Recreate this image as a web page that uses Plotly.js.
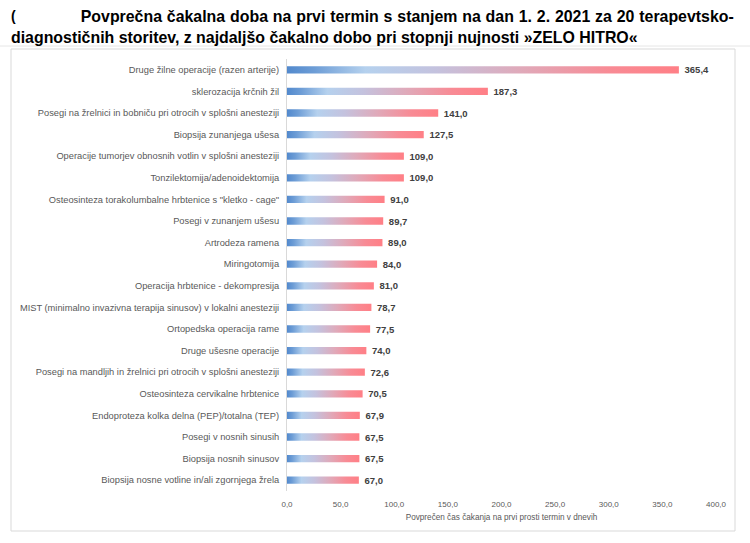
<!DOCTYPE html>
<html>
<head>
<meta charset="utf-8">
<script src="https://cdn.plot.ly/plotly-3.0.1.min.js"></script>
<style>html,body{margin:0;padding:0;background:#fff;}#chart{width:750px;height:543px;}</style>
</head>
<body>
<div id="chart"></div>
<script>
const categories = [
  "Druge žilne operacije (razen arterije)",
  "sklerozacija krčnih žil",
  "Posegi na žrelnici in bobniču pri otrocih v splošni anesteziji",
  "Biopsija zunanjega ušesa",
  "Operacije tumorjev obnosnih votlin v splošni anesteziji",
  "Tonzilektomija/adenoidektomija",
  "Osteosinteza torakolumbalne hrbtenice s \"kletko - cage\"",
  "Posegi v zunanjem ušesu",
  "Artrodeza ramena",
  "Miringotomija",
  "Operacija hrbtenice - dekompresija",
  "MIST (minimalno invazivna terapija sinusov) v lokalni anesteziji",
  "Ortopedska operacija rame",
  "Druge ušesne operacije",
  "Posegi na mandljih in žrelnici pri otrocih v splošni anesteziji",
  "Osteosinteza cervikalne hrbtenice",
  "Endoproteza kolka delna (PEP)/totalna (TEP)",
  "Posegi v nosnih sinusih",
  "Biopsija nosnih sinusov",
  "Biopsija nosne votline in/ali zgornjega žrela"
];
const waitDays = [365.4, 187.3, 141.0, 127.5, 109.0, 109.0, 91.0, 89.7, 89.0, 84.0,
                  81.0, 78.7, 77.5, 74.0, 72.6, 70.5, 67.9, 67.5, 67.5, 67.0];
const tickValues = [0, 50, 100, 150, 200, 250, 300, 350, 400];
const titleLine1 = "Povprečna čakalna doba na prvi termin s stanjem na dan 1. 2. 2021 za 20 terapevtsko-";
const titleLine2 = "diagnostičnih storitev, z najdaljšo čakalno dobo pri stopnji nujnosti »ZELO HITRO«";
const xTitle = "Povprečen čas čakanja na prvi prosti termin v dnevih";

const FONT = "Liberation Sans, Arial, sans-serif";

const trace = {
  type: "bar",
  orientation: "h",
  y: categories,
  x: waitDays,
  marker: {color: "#c3c0dd", line: {width: 0}},
  texttemplate: " %{x:.1f}",
  textposition: "outside",
  constraintext: "none",
  cliponaxis: false,
  textfont: {family: FONT, size: 9.5, color: "#404040", weight: "bold"},
  hoverinfo: "none"
};

const W = 750, H = 543;
const ml = 287, mr = 34, mt = 59, mb = 52;
const pw = W - ml - mr, ph = H - mt - mb;
function px2x(p){ return (p - ml) / pw; }
function py2y(p){ return 1 - (p - mt) / ph; }

const layout = {
  width: W, height: H,
  margin: {l: ml, r: mr, t: mt, b: mb, pad: 0},
  paper_bgcolor: "#ffffff",
  plot_bgcolor: "#ffffff",
  separators: ", ",
  showlegend: false,
  bargap: 0.66,
  font: {family: FONT, color: "#595959"},
  xaxis: {
    range: [0, 400],
    tickvals: tickValues,
    tickformat: ".1f",
    showgrid: false,
    zeroline: false,
    showline: false,
    ticks: "",
    ticklabelstandoff: 7,
    tickfont: {size: 8, color: "#595959"},
    title: {text: xTitle, font: {size: 8.2, color: "#595959"}, standoff: 6},
    automargin: false,
    fixedrange: true
  },
  yaxis: {
    autorange: "reversed",
    showgrid: false,
    zeroline: false,
    showline: true,
    linecolor: "#d9d9d9",
    linewidth: 1,
    ticks: "",
    ticklabelstandoff: 5,
    tickfont: {size: 9.3, color: "#595959"},
    automargin: false,
    fixedrange: true
  },
  shapes: [
    {type: "rect", xref: "paper", yref: "paper",
     x0: px2x(11), x1: px2x(735), y0: py2y(531), y1: py2y(49),
     line: {color: "#d9d9d9", width: 1}, fillcolor: "rgba(0,0,0,0)", layer: "below"},
    {type: "line", xref: "paper", yref: "paper",
     x0: px2x(0), x1: px2x(750), y0: py2y(46), y1: py2y(46),
     line: {color: "#e6e6e6", width: 1}}
  ],
  annotations: [
    {text: "(", xref: "paper", yref: "paper", x: px2x(9), y: py2y(16), xanchor: "left", yanchor: "middle",
     showarrow: false, font: {family: FONT, size: 14, color: "#000", weight: "bold"}},
    {text: titleLine1, xref: "paper", yref: "paper", x: px2x(82), y: py2y(16), xanchor: "left", yanchor: "middle",
     showarrow: false, font: {family: FONT, size: 15.9, color: "#000", weight: "bold"}},
    {text: titleLine2, xref: "paper", yref: "paper", x: px2x(9), y: py2y(37), xanchor: "left", yanchor: "middle",
     showarrow: false, font: {family: FONT, size: 15.9, color: "#000", weight: "bold"}}
  ]
};

Plotly.newPlot("chart", [trace], layout, {displayModeBar: false, staticPlot: true}).then(function(gd){
  const svg = gd.querySelector(".main-svg");
  const ns = "http://www.w3.org/2000/svg";
  let defs = svg.querySelector("defs");
  if (!defs) { defs = document.createElementNS(ns, "defs"); svg.insertBefore(defs, svg.firstChild); }
  const lg = document.createElementNS(ns, "linearGradient");
  lg.setAttribute("id", "barGrad");
  lg.setAttribute("x1", "0"); lg.setAttribute("y1", "0");
  lg.setAttribute("x2", "1"); lg.setAttribute("y2", "0");
  [[0, "#5289cd"], [0.07, "#6d9dd6"], [0.2, "#b5d1ee"], [0.38, "#c4c2de"], [0.6, "#e0a9b9"], [0.82, "#f88b95"], [1, "#ff7f86"]].forEach(function(s){
    const st = document.createElementNS(ns, "stop");
    st.setAttribute("offset", s[0]);
    st.setAttribute("stop-color", s[1]);
    lg.appendChild(st);
  });
  defs.appendChild(lg);
  gd.querySelectorAll(".bars .point path").forEach(function(p){
    p.style.fill = "url(#barGrad)";
  });
  // justified first title line, as in the source document
  gd.querySelectorAll(".annotation-text").forEach(function(t){
    if (t.textContent === titleLine1) {
      const w = t.getComputedTextLength();
      const gaps = (titleLine1.match(/ /g) || []).length;
      const extra = (735 - 82) - w;
      if (extra > 0 && gaps > 0) t.style.wordSpacing = (extra / gaps) + "px";
    }
  });
});
</script>
</body>
</html>
